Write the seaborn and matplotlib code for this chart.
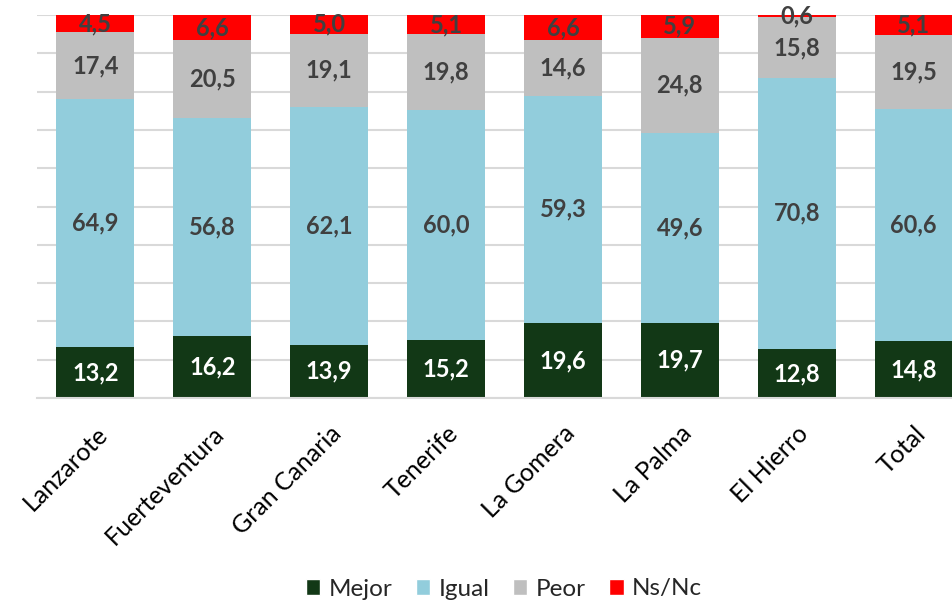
import seaborn as sns
import numpy as np
import matplotlib.pyplot as plt
from matplotlib.patches import Patch

# islands (x categories)
islas = ['Lanzarote', 'Fuerteventura', 'Gran Canaria', 'Tenerife',
         'La Gomera', 'La Palma', 'El Hierro', 'Total']

# percentages per answer
mejor = [13.2, 16.2, 13.9, 15.2, 19.6, 19.7, 12.8, 14.8]
igual = [64.9, 56.8, 62.1, 60.0, 59.3, 49.6, 70.8, 60.6]
peor = [17.4, 20.5, 19.1, 19.8, 14.6, 24.8, 15.8, 19.5]
nsnc = [4.5, 6.6, 5.0, 5.1, 6.6, 5.9, 0.6, 5.1]

series_names = ['Mejor', 'Igual', 'Peor', 'Ns/Nc']
series_vals = [mejor, igual, peor, nsnc]
series_colors = ['#123816', '#92CDDC', '#BFBFBF', '#FF0000']
label_colors = ['white', '#404040', '#404040', '#404040']

sns.set_style('white')
plt.rcParams['font.family'] = ['Lato', 'DejaVu Sans']

fig = plt.figure(figsize=(9.52, 6), dpi=100)
# axes runs past the right edge, the reference is cropped there
ax = fig.add_axes([37 / 952, 202 / 600, 935 / 952, 383 / 600])

bottom = np.zeros(len(islas))
for name, vals, col, lcol in zip(series_names, series_vals, series_colors, label_colors):
    sns.barplot(x=islas, y=vals, bottom=bottom, color=col, width=0.667,
                saturation=1, ax=ax, linewidth=0)
    cont = ax.containers[-1]
    ax.bar_label(cont, labels=[f'{v:.1f}'.replace('.', ',') for v in vals],
                 label_type='center', color=lcol, fontsize=17, fontweight='bold')
    bottom = bottom + np.array(vals)

ax.set_ylim(0, 100)
ax.set_xlim(-0.5, 7.5)
ax.set_yticks(np.arange(0, 101, 10))
ax.set_yticklabels([])
ax.yaxis.grid(True, color='#D9D9D9', linewidth=1.5)
ax.set_axisbelow(True)
for s in ['top', 'right', 'left']:
    ax.spines[s].set_visible(False)
ax.spines['bottom'].set_color('#D9D9D9')
ax.spines['bottom'].set_linewidth(1.5)
ax.tick_params(axis='both', length=0)
ax.tick_params(axis='x', pad=17)
plt.setp(ax.get_xticklabels(), rotation=45, ha='right', rotation_mode='anchor',
         fontsize=18, color='black')

handles = [Patch(facecolor=c, label=n) for n, c in zip(series_names, series_colors)]
fig.legend(handles=handles, loc='center', bbox_to_anchor=(504 / 952, 11 / 600), ncol=4,
           frameon=False, fontsize=17.5, handlelength=0.6, handleheight=0.6,
           handletextpad=0.35, columnspacing=0.95, borderpad=0)

plt.savefig('out.png', dpi=100)
